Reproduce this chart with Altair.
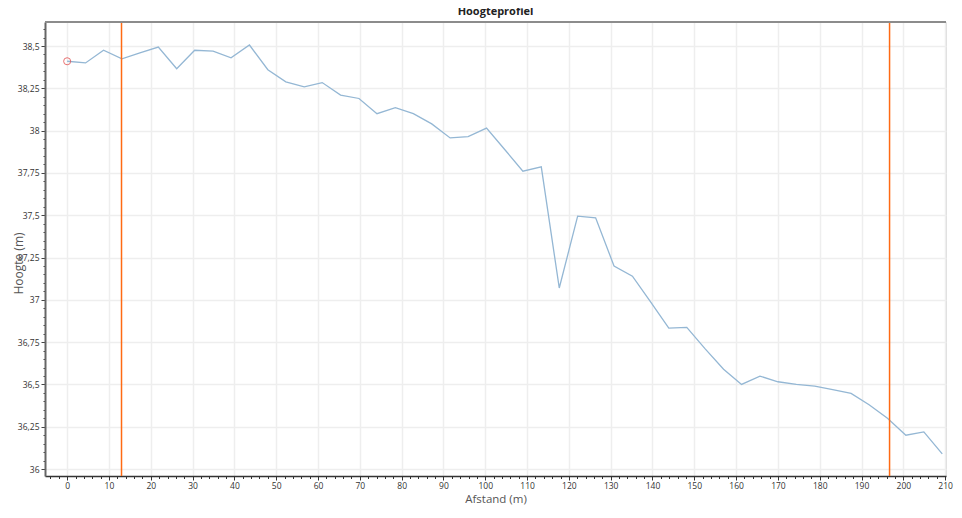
import altair as alt
import pandas as pd

# Distance along the profile (m) and height (m)
afstand = [0, 4.4, 8.7, 13.1, 17.4, 21.8, 26.2, 30.5, 34.9, 39.2, 43.6, 48.0, 52.3,
           56.7, 61.0, 65.4, 69.8, 74.1, 78.5, 82.8, 87.2, 91.6, 95.9, 100.3, 104.6,
           109.0, 113.4, 117.7, 122.1, 126.4, 130.8, 135.2, 139.5, 143.9, 148.2,
           152.6, 157.0, 161.3, 165.7, 170.0, 174.4, 178.8, 183.1, 187.5, 191.8,
           196.2, 200.6, 204.9, 209.3]
hoogte = [38.41, 38.40, 38.475, 38.424, 38.46, 38.494, 38.366, 38.475, 38.47, 38.43,
          38.506, 38.36, 38.288, 38.259, 38.284, 38.21, 38.19, 38.10, 38.136, 38.10,
          38.04, 37.957, 37.965, 38.015, 37.89, 37.76, 37.786, 37.07, 37.495, 37.485,
          37.20, 37.14, 36.99, 36.833, 36.837, 36.71, 36.59, 36.50, 36.549, 36.516,
          36.50, 36.49, 36.47, 36.447, 36.38, 36.30, 36.20, 36.22, 36.09]

# Vertical marker lines (m)
markers = [13.0, 196.7]

# Start point marker
start_x = [0]
start_y = [38.41]

# Axis tick values (major every 10 m / 0.25 m, minor every 2 m / 0.05 m)
x_ticks = list(range(-4, 211, 2))
y_ticks = [round(36 + 0.05 * i, 2) for i in range(0, 53)]

W, H = 901, 454
FONT = "Open Sans"

profile = pd.DataFrame({"afstand": afstand, "hoogte": hoogte})
marker_df = pd.DataFrame({"afstand": markers})
start_df = pd.DataFrame({"afstand": start_x, "hoogte": start_y})

xscale = alt.Scale(domain=[-5.3, 210.2], nice=False, zero=False)
yscale = alt.Scale(domain=[35.959, 38.642], nice=False, zero=False)

X_MAJOR = "datum.value % 10 == 0"
Y_MAJOR = "abs(datum.value * 4 - round(datum.value * 4)) < 0.001"

x_axis = alt.Axis(
    orient="bottom", values=x_ticks, title="Afstand (m)", grid=True,
    gridColor="#eeeeee", gridWidth=1.5,
    gridOpacity=alt.condition(X_MAJOR, alt.value(1), alt.value(0)),
    domainColor="#333333", domainWidth=1.5,
    tickColor="#333333",
    tickSize=alt.condition(X_MAJOR, alt.value(4), alt.value(2.5)),
    labelExpr=f"{X_MAJOR} ? datum.label : ''",
    labelOverlap=False, labelFlush=False,
    labelFont=FONT, labelFontSize=8.5, labelColor="#333333", labelPadding=1,
    titleFont=FONT, titleFontSize=11.5, titleFontWeight="normal",
    titleColor="#555555", titleY=23.5, titleBaseline="middle",
)
y_axis = alt.Axis(
    orient="left", values=y_ticks, title="Hoogte (m)", grid=True,
    gridColor="#eeeeee", gridWidth=1.5,
    gridOpacity=alt.condition(Y_MAJOR, alt.value(1), alt.value(0)),
    domainColor="#666666", domainWidth=2,
    tickColor="#444444",
    tickSize=alt.condition(Y_MAJOR, alt.value(4), alt.value(2)),
    labelExpr=f"{Y_MAJOR} ? replace(toString(datum.value), '.', ',') : ''",
    labelOverlap=False, labelFlush=False,
    labelFont=FONT, labelFontSize=8.5, labelColor="#333333", labelPadding=2,
    titleFont=FONT, titleFontSize=12, titleFontWeight="normal",
    titleColor="#555555", titleX=-27, titleY=241, titleBaseline="middle",
)

X = alt.X("afstand:Q", scale=xscale, axis=x_axis)
Y = alt.Y("hoogte:Q", scale=yscale, axis=y_axis)

line = alt.Chart(profile).mark_line(color="#94b7d4", strokeWidth=1.3).encode(x=X, y=Y)

rules = alt.Chart(marker_df).mark_rule(color="#ff6a13", strokeWidth=1.5).encode(x=X)

start = alt.Chart(start_df).mark_point(
    shape="circle", filled=False, color="#e03838", size=50, strokeWidth=1
).encode(x=X, y=Y)

top_border = alt.Chart(profile).mark_rule(color="#8c8c8c", strokeWidth=2).encode(
    x=alt.value(0), x2=alt.value(W), y=alt.value(0)
)

chart = alt.layer(line, rules, start, top_border).properties(
    width=W, height=H,
    title=alt.TitleParams("Hoogteprofiel", font=FONT, fontSize=11, fontWeight="bold",
                          color="#222222", anchor="middle", offset=4),
    autosize=alt.AutoSizeParams(type="none"),
    padding={"left": 37, "top": 14, "right": 8, "bottom": 29},
).configure_view(strokeWidth=0, stroke="transparent").configure(background="white")

chart.save("out.html", embed_options={"renderer": "svg", "actions": False})
